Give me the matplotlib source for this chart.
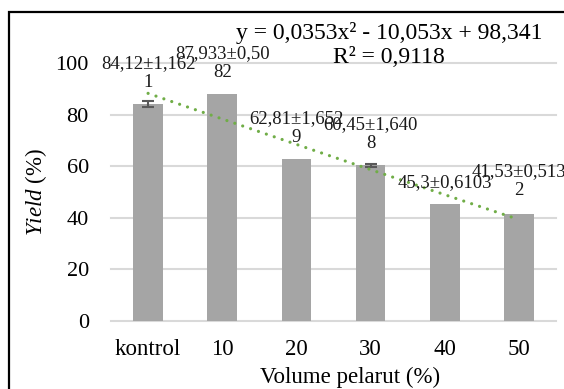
import numpy as np
import matplotlib
matplotlib.use('Agg')
import matplotlib.pyplot as plt
from matplotlib.patches import Rectangle

plt.rcParams['font.family'] = ['Liberation Serif', 'DejaVu Serif']
plt.rcParams['mathtext.fontset'] = 'custom'
plt.rcParams['mathtext.rm'] = 'Liberation Serif'
plt.rcParams['mathtext.it'] = 'Liberation Serif:italic'

categories = ['kontrol', '10', '20', '30', '40', '50']
yield_pct = [84.12, 87.933, 62.81, 60.45, 45.3, 41.53]
# only two error bars can be seen in the picture
yield_err = [1.1, 0.0, 0.0, 0.55, 0.0, 0.0]
bar_labels = ['84,12±1,162\n1', '87,933±0,50\n82', '62,81±1,652\n9',
              '60,45±1,640\n8', '45,3±0,6103', '41,53±0,513\n2']
label_y = [96.2, 100.1, 74.7, 72.5, 53.5, 54.1]   # where Excel left the labels
equation = 'y = 0,0353x² - 10,053x + 98,341\nR² = 0,9118'

W, H = 564, 389
fig = plt.figure(figsize=(W / 100, H / 100), dpi=100)
ax = fig.add_axes([111 / W, 1 - 320.7 / H, (556 - 111) / W, (320.7 - 63.3) / H])

x = np.arange(len(categories))
ax.bar(x, yield_pct, width=0.4, color='#A5A5A5', zorder=2)
has_err = [e > 0 for e in yield_err]
ax.errorbar(x[has_err], np.array(yield_pct)[has_err],
            yerr=np.array(yield_err)[has_err], fmt='none', ecolor='#595959',
            elinewidth=1.5, capsize=4.3, capthick=1.5, zorder=3)

# polynomial (order 2) trendline, like Excel, on x = 1..n
coef = np.polyfit(x + 1, yield_pct, 2)
xs = np.linspace(1, len(x), 100)
ax.plot(xs - 1, np.polyval(coef, xs), color='#70AD47', lw=2.3,
        linestyle=(0, (0.01, 2.6)), dash_capstyle='round', zorder=4)

for xi, txt, yl in zip(x, bar_labels, label_y):
    ax.text(xi, yl, txt, ha='center', va='center', fontsize=13.5,
            linespacing=1.15, color='#1a1a1a', zorder=5, clip_on=False)

ax.set_xlim(-0.5, 5.5)
ax.set_ylim(0, 100)
ax.set_yticks([0, 20, 40, 60, 80, 100])
ax.set_xticks(x)
ax.set_xticklabels(categories)
ax.tick_params(axis='both', length=0, labelsize=16, colors='#000000')
ax.tick_params(axis='y', pad=16)
ax.tick_params(axis='x', labelsize=16.5, pad=13)
ax.yaxis.grid(True, color='#D9D9D9', lw=1.5, zorder=0)
for gl in ax.get_ygridlines():
    gl.set_clip_on(False)
for s in ax.spines.values():
    s.set_visible(False)

fig.text(36 / W, 1 - 192 / H, r'$\it{Yield}$ (%)', rotation=90,
         ha='center', va='center', fontsize=16.5)
fig.text(350 / W, 1 - 377 / H, 'Volume pelarut (%)', ha='center',
         va='center', fontsize=16.5)
fig.text(389 / W, 1 - 45 / H, equation, ha='center', va='center',
         fontsize=17, linespacing=1.15)

fig.patches.append(Rectangle((8.5 / W, -0.1), 1.2, 1 - 11.7 / H + 0.1,
                             transform=fig.transFigure, fill=False,
                             edgecolor='black', lw=1.6))

fig.savefig('out.png', dpi=100)
